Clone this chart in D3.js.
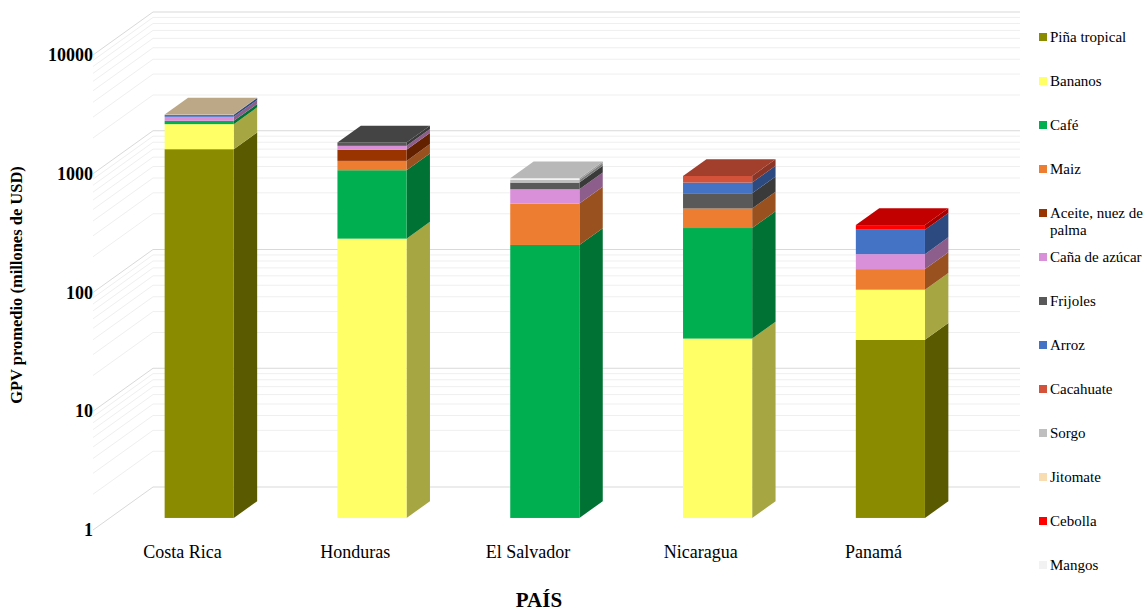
<!DOCTYPE html>
<html>
<head>
<meta charset="utf-8">
<script src="https://cdn.jsdelivr.net/npm/d3@7"></script>
<style>
  html, body { margin: 0; padding: 0; background: #fff; }
  svg { display: block; }
  text { font-family: "Liberation Serif", "Times New Roman", serif; fill: #000; }
</style>
</head>
<body>
<svg id="chart" width="1147" height="611"></svg>
<script>
// Average gross production value (millions of USD) by country and crop
const countries = ["Costa Rica", "Honduras", "El Salvador", "Nicaragua", "Panamá"];
const crops = ["Piña tropical", "Bananos", "Café", "Maiz", "Aceite, nuez de palma",
  "Caña de azúcar", "Frijoles", "Arroz", "Cacahuate", "Sorgo", "Jitomate", "Cebolla", "Mangos"];
const cropColors = ["#8B8B00", "#FFFF66", "#00B050", "#ED7D31", "#993300",
  "#D990D8", "#595959", "#4472C4", "#D4523A", "#BFBFBF", "#F8DDB2", "#FF0000", "#F2F2F2"];

const pina      = [1275,   0,   0,   0, 31.6];
const bananos   = [ 797, 225,   0, 32.4, 52];
const cafe      = [ 136, 623, 199, 244,   0];
const maiz      = [   0, 168, 245, 127,  41];
const aceite    = [   0, 243,   0,   0,   0];
const cana      = [ 180, 101, 142,   0,  42];
const frijoles  = [   0,  92,  81, 139,   0];
const arroz     = [  96,   0,   0, 125, 101];
const cacahuate = [   0,   0,   0,  92,   0];
const sorgo     = [   0,   0,  35,   0,   0];
const jitomate  = [  15,   0,   0,   0,   0];
const cebolla   = [   0,   0,   0,   0,  25];
const mangos    = [   0,   0,  24,   0,   0];

const tickValues = [1, 10, 100, 1000, 10000];

const series = [pina, bananos, cafe, maiz, aceite, cana, frijoles, arroz,
  cacahuate, sorgo, jitomate, cebolla, mangos];

const svg = d3.select("#chart");

// Oblique projection: a point on the front plane moves by (depthX, depthY) at full depth
const depthX = 60, depthY = -43;
const y = d3.scaleLog().domain([1, 10000]).range([530, 55]);
const x = d3.scaleBand().domain(countries).range([96, 960]).paddingInner(0.6).paddingOuter(0.3);
const plotLeft = 93, plotRight = 960;
const P = (px, v, f) => [px + depthX * f, y(v) + depthY * f];
const barFront = 0.28, barBack = 0.67;

const shade = (c, k) => { const o = d3.rgb(c); return d3.rgb(o.r * k, o.g * k, o.b * k).formatHex(); };

// Gridlines on the side wall and back wall (major decades + minor 2..9)
const gridG = svg.append("g");
const gridVals = [];
for (let d = 1; d <= 10000; d *= 10) {
  gridVals.push({ v: d, major: true });
  if (d < 10000) for (let m = 2; m <= 9; m++) gridVals.push({ v: d * m, major: false });
}
const line = d3.line();
gridG.selectAll("path").data(gridVals.sort((a, b) => a.major - b.major)).join("path")
  .attr("d", g => line([P(plotLeft, g.v, 0), P(plotLeft, g.v, 1), P(plotRight, g.v, 1)]))
  .attr("fill", "none")
  .attr("stroke", g => g.major ? "#D9D9D9" : "#EFEFEF")
  .attr("stroke-width", 1);

// Stacked 3D columns
const barsG = svg.append("g");
countries.forEach((c, i) => {
  const xl = x(c), xr = x(c) + x.bandwidth();
  let cum = 1;
  const segs = [];
  series.forEach((s, k) => {
    const val = s[i];
    if (!val) return;
    const lo = cum === 1 ? 1 : cum;
    const hi = (cum === 1 ? 0 : cum) + val;
    segs.push({ lo, hi, color: cropColors[k] });
    cum = hi;
  });
  const g = barsG.append("g");
  segs.forEach(s => {
    // right side face
    g.append("path")
      .attr("d", line([P(xr, s.lo, barFront), P(xr, s.lo, barBack), P(xr, s.hi, barBack), P(xr, s.hi, barFront)]) + "Z")
      .attr("fill", shade(s.color, 0.65));
    // front face
    const a = P(xl, s.hi, barFront), b = P(xr, s.lo, barFront);
    g.append("rect")
      .attr("x", a[0]).attr("y", a[1])
      .attr("width", b[0] - a[0]).attr("height", b[1] - a[1])
      .attr("fill", s.color);
  });
  const top = segs[segs.length - 1];
  g.append("path")
    .attr("d", line([P(xl, top.hi, barFront), P(xr, top.hi, barFront), P(xr, top.hi, barBack), P(xl, top.hi, barBack)]) + "Z")
    .attr("fill", shade(top.color, 0.76));
});

// Value axis labels
svg.append("g").selectAll("text").data(tickValues).join("text")
  .attr("x", plotLeft).attr("y", v => y(v))
  .attr("text-anchor", "end").attr("dominant-baseline", "central")
  .style("font-size", "18px").style("font-weight", "bold")
  .text(v => d3.format("d")(v));

// Category labels
svg.append("g").selectAll("text").data(countries).join("text")
  .attr("x", c => x(c) + x.bandwidth() / 2)
  .attr("y", 558)
  .attr("text-anchor", "middle")
  .style("font-size", "18px")
  .text(c => c);

// Axis titles
svg.append("text")
  .attr("transform", "translate(22,285) rotate(-90)")
  .attr("text-anchor", "middle")
  .style("font-size", "16.5px").style("font-weight", "bold")
  .text("GPV promedio (millones de USD)");
svg.append("text")
  .attr("x", 539).attr("y", 607)
  .attr("text-anchor", "middle")
  .style("font-size", "21px").style("font-weight", "bold")
  .text("PAÍS");

// Legend
const legend = svg.append("g").attr("transform", "translate(1039,37)");
crops.forEach((name, k) => {
  const item = legend.append("g").attr("transform", `translate(0,${k * 44})`);
  item.append("rect").attr("x", 0).attr("y", -4).attr("width", 8).attr("height", 8)
    .attr("fill", cropColors[k]);
  const t = item.append("text").attr("x", 11).attr("y", 0)
    .attr("dominant-baseline", "central").style("font-size", "15px");
  if (name === "Aceite, nuez de palma") {
    t.append("tspan").attr("x", 11).attr("dy", 0).text("Aceite, nuez de");
    t.append("tspan").attr("x", 11).attr("dy", 17).text("palma");
  } else {
    t.text(name);
  }
});
</script>
</body>
</html>
